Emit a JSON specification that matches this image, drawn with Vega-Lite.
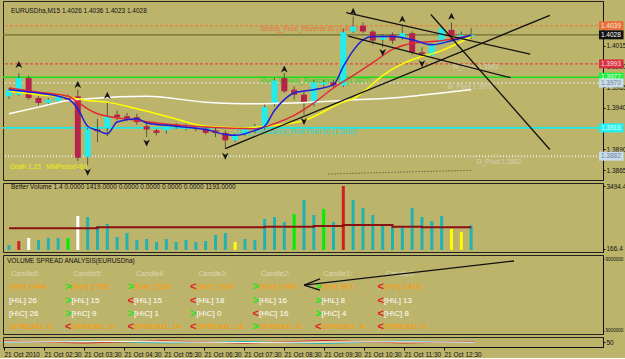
{
"$schema": "https://vega.github.io/schema/vega-lite/v6.json",
"background": "#BDB46C",
"padding": {"left": 1, "top": 0, "right": 0, "bottom": 0},
"spacing": 3,
"bounds": "flush",
"config": {
  "view": {"fill": "#BDB46C", "stroke": "#222222", "strokeWidth": 1},
  "font": "Liberation Sans",
  "axis": {"labelFont": "Liberation Sans", "labelFontSize": 6.5, "labelColor": "#111111", "tickColor": "#111111", "domainColor": "#111111", "tickSize": 2, "labelPadding": 1, "grid": false, "title": null}
},
"datasets": {
  "candles": [
    {"i":0,"o":1.3954,"h":1.3964,"l":1.3951,"c":1.3962},
    {"i":1,"o":1.3956,"h":1.3982,"l":1.3954,"c":1.3976},
    {"i":2,"o":1.3976,"h":1.3979,"l":1.3950,"c":1.3952},
    {"i":3,"o":1.3952,"h":1.3955,"l":1.3943,"c":1.3946},
    {"i":4,"o":1.3946,"h":1.3952,"l":1.3943,"c":1.3950},
    {"i":5,"o":1.3948,"h":1.3956,"l":1.3946,"c":1.3954},
    {"i":6,"o":1.3952,"h":1.3956,"l":1.3948,"c":1.3950},
    {"i":7,"o":1.3954,"h":1.3962,"l":1.3876,"c":1.3880},
    {"i":8,"o":1.3881,"h":1.3916,"l":1.3871,"c":1.3914},
    {"i":9,"o":1.3914,"h":1.3927,"l":1.3899,"c":1.3912},
    {"i":10,"o":1.3916,"h":1.3946,"l":1.3906,"c":1.3930},
    {"i":11,"o":1.3932,"h":1.3937,"l":1.3925,"c":1.3929},
    {"i":12,"o":1.3930,"h":1.3934,"l":1.3924,"c":1.3927},
    {"i":13,"o":1.3929,"h":1.3933,"l":1.3920,"c":1.3923},
    {"i":14,"o":1.3918,"h":1.3923,"l":1.3905,"c":1.3914},
    {"i":15,"o":1.3913,"h":1.3915,"l":1.3907,"c":1.3910},
    {"i":16,"o":1.3913,"h":1.3921,"l":1.3909,"c":1.3918},
    {"i":17,"o":1.3920,"h":1.3922,"l":1.3915,"c":1.3918},
    {"i":18,"o":1.3915,"h":1.3921,"l":1.3913,"c":1.3917},
    {"i":19,"o":1.3916,"h":1.3918,"l":1.3912,"c":1.3915},
    {"i":20,"o":1.3915,"h":1.3917,"l":1.3908,"c":1.3910},
    {"i":21,"o":1.3913,"h":1.3916,"l":1.3905,"c":1.3910},
    {"i":22,"o":1.3910,"h":1.3913,"l":1.3891,"c":1.3901},
    {"i":23,"o":1.3901,"h":1.3909,"l":1.3899,"c":1.3907},
    {"i":24,"o":1.3908,"h":1.3917,"l":1.3906,"c":1.3915},
    {"i":25,"o":1.3913,"h":1.3921,"l":1.3910,"c":1.3918},
    {"i":26,"o":1.3916,"h":1.3945,"l":1.3914,"c":1.3941},
    {"i":27,"o":1.3945,"h":1.3976,"l":1.3942,"c":1.3973},
    {"i":28,"o":1.3976,"h":1.3982,"l":1.3958,"c":1.3960},
    {"i":29,"o":1.3962,"h":1.3966,"l":1.3950,"c":1.3956},
    {"i":30,"o":1.3956,"h":1.3959,"l":1.3932,"c":1.3946},
    {"i":31,"o":1.3945,"h":1.3974,"l":1.3942,"c":1.3971},
    {"i":32,"o":1.3968,"h":1.3974,"l":1.3964,"c":1.3971},
    {"i":33,"o":1.3971,"h":1.3974,"l":1.3964,"c":1.3967},
    {"i":34,"o":1.3967,"h":1.4036,"l":1.3965,"c":1.4031},
    {"i":35,"o":1.4032,"h":1.4050,"l":1.4030,"c":1.4038},
    {"i":36,"o":1.4039,"h":1.4043,"l":1.4030,"c":1.4032},
    {"i":37,"o":1.4032,"h":1.4034,"l":1.4016,"c":1.4021},
    {"i":38,"o":1.4022,"h":1.4029,"l":1.4013,"c":1.4025},
    {"i":39,"o":1.4028,"h":1.4031,"l":1.4017,"c":1.4021},
    {"i":40,"o":1.4024,"h":1.4039,"l":1.4022,"c":1.4030},
    {"i":41,"o":1.4030,"h":1.4032,"l":1.4004,"c":1.4007},
    {"i":42,"o":1.4007,"h":1.4013,"l":1.4000,"c":1.4005},
    {"i":43,"o":1.4003,"h":1.4018,"l":1.4003,"c":1.4017},
    {"i":44,"o":1.4018,"h":1.4036,"l":1.4018,"c":1.4036},
    {"i":45,"o":1.4034,"h":1.4043,"l":1.4027,"c":1.4027},
    {"i":46,"o":1.4025,"h":1.4032,"l":1.4024,"c":1.4028},
    {"i":47,"o":1.4026,"h":1.4036,"l":1.4023,"c":1.4028}
  ],
  "ma": [
    {"s":"white","i":0,"v":1.3933},{"s":"white","i":3,"v":1.3941},{"s":"white","i":6,"v":1.3949},{"s":"white","i":8,"v":1.3951},{"s":"white","i":14,"v":1.3954},{"s":"white","i":20,"v":1.3947},{"s":"white","i":25,"v":1.3945},{"s":"white","i":29,"v":1.3946},{"s":"white","i":34,"v":1.3949},{"s":"white","i":40,"v":1.3953},{"s":"white","i":44,"v":1.3958},{"s":"white","i":47,"v":1.3962},
    {"s":"yellow","i":0,"v":1.3960},{"s":"yellow","i":3,"v":1.3956},{"s":"yellow","i":6,"v":1.3953},{"s":"yellow","i":8,"v":1.3949},{"s":"yellow","i":10,"v":1.3947},{"s":"yellow","i":13,"v":1.3939},{"s":"yellow","i":16,"v":1.3930},{"s":"yellow","i":20,"v":1.3918},{"s":"yellow","i":24,"v":1.3916},{"s":"yellow","i":26,"v":1.3918},{"s":"yellow","i":30,"v":1.3925},{"s":"yellow","i":34,"v":1.3947},{"s":"yellow","i":35,"v":1.3951},{"s":"yellow","i":36,"v":1.3959},{"s":"yellow","i":38,"v":1.3979},{"s":"yellow","i":40,"v":1.3993},{"s":"yellow","i":41,"v":1.3998},{"s":"yellow","i":44,"v":1.4009},{"s":"yellow","i":47,"v":1.4026},
    {"s":"red","i":0,"v":1.3964},{"s":"red","i":3,"v":1.3959},{"s":"red","i":6,"v":1.3954},{"s":"red","i":7,"v":1.3947},{"s":"red","i":8,"v":1.3939},{"s":"red","i":9,"v":1.3933},{"s":"red","i":10,"v":1.3930},{"s":"red","i":13,"v":1.3925},{"s":"red","i":15,"v":1.3922},{"s":"red","i":20,"v":1.3917},{"s":"red","i":25,"v":1.3915},{"s":"red","i":27,"v":1.3921},{"s":"red","i":29,"v":1.3931},{"s":"red","i":31,"v":1.3946},{"s":"red","i":33,"v":1.3964},{"s":"red","i":35,"v":1.3979},{"s":"red","i":37,"v":1.39945},{"s":"red","i":39,"v":1.40105},{"s":"red","i":41,"v":1.4018},{"s":"red","i":44,"v":1.4021},{"s":"red","i":47,"v":1.40275},
    {"s":"blue","i":0,"v":1.3962},{"s":"blue","i":3,"v":1.3958},{"s":"blue","i":6,"v":1.3951},{"s":"blue","i":7,"v":1.3939},{"s":"blue","i":8,"v":1.3918},{"s":"blue","i":9,"v":1.3913},{"s":"blue","i":10,"v":1.3909},{"s":"blue","i":11,"v":1.3923},{"s":"blue","i":13,"v":1.3927},{"s":"blue","i":14,"v":1.3922},{"s":"blue","i":17,"v":1.3918},{"s":"blue","i":20,"v":1.3914},{"s":"blue","i":22,"v":1.3908},{"s":"blue","i":23,"v":1.3907},{"s":"blue","i":25,"v":1.3913},{"s":"blue","i":26,"v":1.3918},{"s":"blue","i":27,"v":1.3937},{"s":"blue","i":28,"v":1.3950},{"s":"blue","i":29,"v":1.3958},{"s":"blue","i":31,"v":1.3962},{"s":"blue","i":33,"v":1.3968},{"s":"blue","i":34,"v":1.3990},{"s":"blue","i":35,"v":1.4009},{"s":"blue","i":36,"v":1.4022},{"s":"blue","i":37,"v":1.4026},{"s":"blue","i":39,"v":1.4026},{"s":"blue","i":41,"v":1.4022},{"s":"blue","i":43,"v":1.4016},{"s":"blue","i":45,"v":1.4021},{"s":"blue","i":47,"v":1.40275}
  ],
  "levels": [
    {"lv":"strong","p":1.4039},{"lv":"bid","p":1.4028},{"lv":"wpivot","p":1.3993},{"lv":"weekly","p":1.3977},{"lv":"mpivot","p":1.3970},{"lv":"daily","p":1.3916},{"lv":"dpivot","p":1.3882}
  ],
  "trend": [
    {"xa":22,"pa":1.3891,"xb":55,"pb":1.40514},
    {"xa":34.3,"pa":1.40548,"xb":53,"pb":1.40048},
    {"xa":34.5,"pa":1.40264,"xb":51,"pb":1.39764},
    {"xa":42.9,"pa":1.40525,"xb":55,"pb":1.3890}
  ],
  "dotted": [
    {"xa":32.5,"pa":1.38605,"xb":47,"pb":1.3865}
  ],
  "fractals": [
    {"i":1,"p":1.3992,"d":"up"},{"i":7,"p":1.3968,"d":"up"},{"i":10,"p":1.3955,"d":"up"},{"i":28,"p":1.39866,"d":"up"},{"i":35,"p":1.4056,"d":"up"},{"i":40,"p":1.40468,"d":"up"},{"i":45,"p":1.40502,"d":"up"},
    {"i":8,"p":1.3863,"d":"down"},{"i":14,"p":1.3898,"d":"down"},{"i":22,"p":1.3882,"d":"down"},{"i":30,"p":1.3924,"d":"down"},{"i":38,"p":1.4007,"d":"down"},{"i":42,"p":1.39934,"d":"down"}
  ],
  "ptext": [
    {"i":0.2,"p":1.4057,"t":"EURUSDha,M15  1.4026 1.4036 1.4023 1.4028","k":"hdr"},
    {"i":0.1,"p":1.38684,"t":"Grath 1.23","k":"grath"},
    {"i":3.8,"p":1.38684,"t":"MMPeriod=60","k":"mm"},
    {"i":25.6,"p":1.40355,"t":"Strong_Pivot_Reverse 60 (1.4039)","k":"strong"},
    {"i":25.6,"p":1.3973,"t":"Pivot_Weekly_Resistance 60 (1.3977)","k":"weekly"},
    {"i":23.1,"p":1.39116,"t":"Daily_Resistance_Pivot Point 60 (1.3916)","k":"daily"},
    {"i":45.1,"p":1.39889,"t":"W_Pivot 1.3993","k":"pv"},
    {"i":44.6,"p":1.3965,"t":"M_Pivot 1.3970","k":"pv"},
    {"i":47.6,"p":1.38752,"t":"D_Pivot 1.3882","k":"pv"}
  ],
  "boxes": [
    {"b":"strong","p":1.4039,"t":"1.4039"},{"b":"bid","p":1.4028,"t":"1.4028"},{"b":"wpivot","p":1.3993,"t":"1.3993"},{"b":"weekly","p":1.3977,"t":"1.3977"},{"b":"mpivot","p":1.3970,"t":"1.3970"},{"b":"daily","p":1.3916,"t":"1.3916"},{"b":"dpivot","p":1.3882,"t":"1.3882"}
  ],
  "vol": [
    {"i":0,"v":378,"k":"n"},{"i":1,"v":589,"k":"r"},{"i":2,"v":748,"k":"w"},{"i":3,"v":642,"k":"n"},{"i":4,"v":748,"k":"n"},{"i":5,"v":748,"k":"n"},{"i":6,"v":748,"k":"g"},{"i":7,"v":1910,"k":"w"},{"i":8,"v":1857,"k":"n"},{"i":9,"v":1382,"k":"n"},{"i":10,"v":1487,"k":"n"},{"i":11,"v":800,"k":"n"},{"i":12,"v":1012,"k":"n"},{"i":13,"v":642,"k":"n"},{"i":14,"v":695,"k":"n"},{"i":15,"v":536,"k":"n"},{"i":16,"v":695,"k":"n"},{"i":17,"v":536,"k":"n"},{"i":18,"v":642,"k":"n"},{"i":19,"v":536,"k":"n"},{"i":20,"v":589,"k":"n"},{"i":21,"v":906,"k":"n"},{"i":22,"v":1012,"k":"n"},{"i":23,"v":536,"k":"y"},{"i":24,"v":695,"k":"n"},{"i":25,"v":642,"k":"n"},{"i":26,"v":1751,"k":"n"},{"i":27,"v":1857,"k":"n"},{"i":28,"v":1593,"k":"n"},{"i":29,"v":2015,"k":"g"},{"i":30,"v":2755,"k":"n"},{"i":31,"v":1963,"k":"n"},{"i":32,"v":2280,"k":"g"},{"i":33,"v":1593,"k":"n"},{"i":34,"v":3494,"k":"r"},{"i":35,"v":2755,"k":"n"},{"i":36,"v":2333,"k":"n"},{"i":37,"v":1963,"k":"n"},{"i":38,"v":1434,"k":"n"},{"i":39,"v":1329,"k":"n"},{"i":40,"v":1329,"k":"n"},{"i":41,"v":2333,"k":"n"},{"i":42,"v":1857,"k":"n"},{"i":43,"v":1646,"k":"n"},{"i":44,"v":1910,"k":"n"},{"i":45,"v":1223,"k":"y"},{"i":46,"v":1065,"k":"y"},{"i":47,"v":1419,"k":"n"}
  ],
  "volavg": [
    {"i":0,"v":1260},{"i":9,"v":1313},{"i":26,"v":1345},{"i":31,"v":1382},{"i":34,"v":1434},{"i":39,"v":1345},{"i":42,"v":1313},{"i":47,"v":1313}
  ],
  "vsa": [
    {"col":-0.032,"row":0,"t":"VOLUME SPREAD ANALYSIS(EURUSDha)","k":"title"},
    {"col":0.03,"row":1,"t":"Candle6:","k":"hdr"},{"col":1.03,"row":1,"t":"Candle5:","k":"hdr"},{"col":2.03,"row":1,"t":"Candle4:","k":"hdr"},{"col":3.03,"row":1,"t":"Candle3:","k":"hdr"},{"col":4.03,"row":1,"t":"Candle2:","k":"hdr"},{"col":5.03,"row":1,"t":"Candle1:","k":"hdr"},{"col":6.03,"row":1,"t":"Candle0:","k":"hdr"},
    {"col":0,"row":2,"t":"[Vol] 2464","k":"orange"},{"col":1,"row":2,"t":"[Vol] 1758","k":"orange"},{"col":2,"row":2,"t":"[Vol] 1526","k":"orange"},{"col":3,"row":2,"t":"[Vol] 1768","k":"orange"},{"col":4,"row":2,"t":"[Vol] 2046","k":"orange"},{"col":5,"row":2,"t":"[Vol] 961","k":"orange"},{"col":6,"row":2,"t":"[Vol] 1419","k":"orange"},
    {"col":0,"row":3,"t":"[H\\L] 26","k":"white"},{"col":1,"row":3,"t":"[H\\L] 15","k":"white"},{"col":2,"row":3,"t":"[H\\L] 15","k":"white"},{"col":3,"row":3,"t":"[H\\L] 18","k":"white"},{"col":4,"row":3,"t":"[H\\L] 16","k":"white"},{"col":5,"row":3,"t":"[H\\L] 8","k":"white"},{"col":6,"row":3,"t":"[H\\L] 13","k":"white"},
    {"col":0,"row":4,"t":"[H\\C] 26","k":"white"},{"col":1,"row":4,"t":"[H\\C] 9","k":"white"},{"col":2,"row":4,"t":"[H\\C] 1","k":"white"},{"col":3,"row":4,"t":"[H\\C] 0","k":"white"},{"col":4,"row":4,"t":"[H\\C] 16","k":"white"},{"col":5,"row":4,"t":"[H\\C] 4","k":"white"},{"col":6,"row":4,"t":"[H\\C] 8","k":"white"},
    {"col":0,"row":5,"t":"SPREAD: 6","k":"orange"},{"col":1,"row":5,"t":"SPREAD: 6","k":"orange"},{"col":2,"row":5,"t":"SPREAD: 14","k":"orange"},{"col":3,"row":5,"t":"SPREAD: 18","k":"orange"},{"col":4,"row":5,"t":"SPREAD: 6","k":"orange"},{"col":5,"row":5,"t":"SPREAD: 4","k":"orange"},{"col":6,"row":5,"t":"SPREAD: 5","k":"orange"},
    {"col":1,"row":2,"t":">","k":"up"},{"col":2,"row":2,"t":">","k":"up"},{"col":3,"row":2,"t":"<","k":"down"},{"col":4,"row":2,"t":">","k":"up"},{"col":5,"row":2,"t":">","k":"up"},{"col":6,"row":2,"t":"<","k":"down"},
    {"col":1,"row":3,"t":">","k":"up"},{"col":2,"row":3,"t":"<","k":"down"},{"col":3,"row":3,"t":"<","k":"down"},{"col":4,"row":3,"t":">","k":"up"},{"col":5,"row":3,"t":">","k":"up"},{"col":6,"row":3,"t":"<","k":"down"},
    {"col":1,"row":4,"t":">","k":"up"},{"col":2,"row":4,"t":">","k":"up"},{"col":3,"row":4,"t":">","k":"up"},{"col":4,"row":4,"t":"<","k":"down"},{"col":5,"row":4,"t":">","k":"up"},{"col":6,"row":4,"t":"<","k":"down"},
    {"col":1,"row":5,"t":"<","k":"down"},{"col":2,"row":5,"t":"<","k":"down"},{"col":3,"row":5,"t":"<","k":"down"},{"col":4,"row":5,"t":">","k":"up"},{"col":5,"row":5,"t":"<","k":"down"},{"col":6,"row":5,"t":"<","k":"down"}
  ],
  "arrow": [
    {"ca":4.72,"ra":1.82,"cb":8.08,"rb":0.0},{"ca":4.72,"ra":1.82,"cb":4.976,"rb":1.36},{"ca":4.72,"ra":1.82,"cb":4.976,"rb":2.2}
  ],
  "strip": [
    {"s":"a","i":0,"v":45},{"s":"a","i":8,"v":60},{"s":"a","i":16,"v":40},{"s":"a","i":24,"v":55},{"s":"a","i":32,"v":35},{"s":"a","i":40,"v":60},{"s":"a","i":47,"v":45},
    {"s":"b","i":0,"v":60},{"s":"b","i":8,"v":40},{"s":"b","i":16,"v":62},{"s":"b","i":24,"v":38},{"s":"b","i":32,"v":65},{"s":"b","i":40,"v":40},{"s":"b","i":47,"v":55},
    {"s":"c","i":0,"v":50},{"s":"c","i":12,"v":55},{"s":"c","i":24,"v":45},{"s":"c","i":36,"v":52},{"s":"c","i":47,"v":48}
  ]
},
"vconcat": [
  {
    "width": 600, "height": 179,
    "resolve": {"scale": {"color": "independent", "size": "independent", "strokeDash": "independent", "strokeWidth": "independent", "shape": "independent"}},
    "layer": [
      {"data": {"name": "levels"}, "mark": {"type": "rule"},
       "encoding": {
         "y": {"field": "p", "type": "quantitative", "scale": {"domain": [1.38593, 1.40627], "nice": false, "zero": false}, "axis": {"orient": "right", "values": [1.3865,1.389,1.394,1.3965,1.399,1.4015], "format": ".4f"}},
         "color": {"field": "lv", "type": "nominal", "legend": null, "scale": {"domain": ["strong","bid","wpivot","weekly","mpivot","daily","dpivot"], "range": ["#F07838","#6E6C34","#E04848","#18E018","#D8D8C8","#18E8E8","#E8E8E0"]}},
         "strokeDash": {"field": "lv", "type": "nominal", "legend": null, "scale": {"domain": ["strong","bid","wpivot","weekly","mpivot","daily","dpivot"], "range": [[3,2],[1,0],[3,2],[1,0],[2,2],[1,0],[1,2]]}},
         "strokeWidth": {"field": "lv", "type": "nominal", "legend": null, "scale": {"domain": ["strong","bid","wpivot","weekly","mpivot","daily","dpivot"], "range": [1,2,1,1.5,1,1.5,1]}}
       }},
      {"data": {"name": "ptext"}, "mark": {"type": "text", "align": "left", "baseline": "middle"},
       "encoding": {
         "x": {"field": "i", "type": "quantitative", "scale": {"domain": [-0.1, 59.9], "nice": false, "zero": false}, "axis": null},
         "y": {"field": "p", "type": "quantitative", "scale": {"domain": [1.38593, 1.40627], "nice": false, "zero": false}, "axis": {"orient": "right", "values": [1.3865,1.389,1.394,1.3965,1.399,1.4015], "format": ".4f"}},
         "text": {"field": "t"},
         "color": {"field": "k", "type": "nominal", "legend": null, "scale": {"domain": ["hdr","grath","mm","strong","weekly","daily","pv"], "range": ["#101010","#F0F000","#F0F000","#E8703C","#18D818","#18D8D8","#D0D0B8"]}},
         "size": {"field": "k", "type": "nominal", "legend": null, "scale": {"domain": ["hdr","grath","mm","strong","weekly","daily","pv"], "range": [6.5,6.5,11,7,7,7,7]}}
       }},
      {"data": {"name": "candles"}, "mark": {"type": "rule", "color": "#5C5A3C", "clip": true},
       "encoding": {
         "x": {"field": "i", "type": "quantitative", "scale": {"domain": [-0.1, 59.9], "nice": false, "zero": false}, "axis": null},
         "y": {"field": "l", "type": "quantitative", "scale": {"domain": [1.38593, 1.40627], "nice": false, "zero": false}, "axis": {"orient": "right", "values": [1.3865,1.389,1.394,1.3965,1.399,1.4015], "format": ".4f"}},
         "y2": {"field": "h"}
       }},
      {"data": {"name": "candles"}, "mark": {"type": "bar", "size": 6, "orient": "vertical", "clip": true},
       "encoding": {
         "x": {"field": "i", "type": "quantitative", "scale": {"domain": [-0.1, 59.9], "nice": false, "zero": false}, "axis": null},
         "y": {"field": "o", "type": "quantitative", "scale": {"domain": [1.38593, 1.40627], "nice": false, "zero": false}, "axis": {"orient": "right", "values": [1.3865,1.389,1.394,1.3965,1.399,1.4015], "format": ".4f"}},
         "y2": {"field": "c"},
         "color": {"condition": {"test": "datum.c >= datum.o", "value": "#22ECEC"}, "value": "#B5234A"}
       }},
      {"data": {"name": "ma"}, "mark": {"type": "line", "strokeWidth": 1.5, "interpolate": "monotone", "clip": true},
       "encoding": {
         "x": {"field": "i", "type": "quantitative", "scale": {"domain": [-0.1, 59.9], "nice": false, "zero": false}, "axis": null},
         "y": {"field": "v", "type": "quantitative", "scale": {"domain": [1.38593, 1.40627], "nice": false, "zero": false}, "axis": {"orient": "right", "values": [1.3865,1.389,1.394,1.3965,1.399,1.4015], "format": ".4f"}},
         "color": {"field": "s", "type": "nominal", "legend": null, "sort": ["white","yellow","red","blue"], "scale": {"domain": ["white","yellow","red","blue"], "range": ["#FFFFFF","#FFFF00","#E02838","#1A20D8"]}},
         "order": {"field": "i", "type": "quantitative"}
       }},
      {"data": {"name": "trend"}, "mark": {"type": "rule", "color": "#111111", "strokeWidth": 1.3},
       "encoding": {
         "x": {"field": "xa", "type": "quantitative", "scale": {"domain": [-0.1, 59.9], "nice": false, "zero": false}, "axis": null},
         "x2": {"field": "xb"},
         "y": {"field": "pa", "type": "quantitative", "scale": {"domain": [1.38593, 1.40627], "nice": false, "zero": false}, "axis": {"orient": "right", "values": [1.3865,1.389,1.394,1.3965,1.399,1.4015], "format": ".4f"}},
         "y2": {"field": "pb"}
       }},
      {"data": {"name": "dotted"}, "mark": {"type": "rule", "color": "#3A3A20", "strokeWidth": 1, "strokeDash": [1,2]},
       "encoding": {
         "x": {"field": "xa", "type": "quantitative", "scale": {"domain": [-0.1, 59.9], "nice": false, "zero": false}, "axis": null},
         "x2": {"field": "xb"},
         "y": {"field": "pa", "type": "quantitative", "scale": {"domain": [1.38593, 1.40627], "nice": false, "zero": false}, "axis": {"orient": "right", "values": [1.3865,1.389,1.394,1.3965,1.399,1.4015], "format": ".4f"}},
         "y2": {"field": "pb"}
       }},
      {"data": {"name": "fractals"}, "mark": {"type": "point", "filled": true, "size": 55, "color": "#151515", "opacity": 1, "clip": true},
       "encoding": {
         "x": {"field": "i", "type": "quantitative", "scale": {"domain": [-0.1, 59.9], "nice": false, "zero": false}, "axis": null},
         "y": {"field": "p", "type": "quantitative", "scale": {"domain": [1.38593, 1.40627], "nice": false, "zero": false}, "axis": {"orient": "right", "values": [1.3865,1.389,1.394,1.3965,1.399,1.4015], "format": ".4f"}},
         "shape": {"field": "d", "type": "nominal", "legend": null, "scale": {"domain": ["up","down"], "range": ["M0,-1L0.9,0.9L0,0.35L-0.9,0.9Z", "M0,1L0.9,-0.9L0,-0.35L-0.9,-0.9Z"]}}
       }},
      {"data": {"name": "boxes"}, "mark": {"type": "bar", "orient": "horizontal", "size": 9, "clip": false},
       "encoding": {
         "x": {"datum": 60.0, "type": "quantitative", "scale": {"domain": [-0.1, 59.9], "nice": false, "zero": false}, "axis": null},
         "x2": {"datum": 62.5},
         "y": {"field": "p", "type": "quantitative", "scale": {"domain": [1.38593, 1.40627], "nice": false, "zero": false}, "axis": {"orient": "right", "values": [1.3865,1.389,1.394,1.3965,1.399,1.4015], "format": ".4f"}},
         "color": {"field": "b", "type": "nominal", "legend": null, "scale": {"domain": ["strong","bid","wpivot","weekly","mpivot","daily","dpivot"], "range": ["#E8703C","#101010","#D83040","#20F040","#C8DCEC","#20F0F0","#C8DCF0"]}}
       }},
      {"data": {"name": "boxes"}, "mark": {"type": "text", "align": "left", "baseline": "middle", "fontSize": 6.5, "clip": false},
       "encoding": {
         "x": {"datum": 60.2, "type": "quantitative", "scale": {"domain": [-0.1, 59.9], "nice": false, "zero": false}, "axis": null},
         "y": {"field": "p", "type": "quantitative", "scale": {"domain": [1.38593, 1.40627], "nice": false, "zero": false}, "axis": {"orient": "right", "values": [1.3865,1.389,1.394,1.3965,1.399,1.4015], "format": ".4f"}},
         "text": {"field": "t"},
         "color": {"field": "b", "type": "nominal", "legend": null, "scale": {"domain": ["strong","bid","wpivot","weekly","mpivot","daily","dpivot"], "range": ["#FFE8D8","#FFFFFF","#FFE0E0","#E8FFE8","#708090","#E8FFFF","#708090"]}}
       }}
    ]
  },
  {
    "width": 600, "height": 69,
    "layer": [
      {"data": {"name": "vol"}, "mark": {"type": "bar", "size": 3, "orient": "vertical"},
       "encoding": {
         "x": {"field": "i", "type": "quantitative", "scale": {"domain": [-0.1, 59.9], "nice": false, "zero": false}, "axis": null},
         "y": {"field": "v", "type": "quantitative", "scale": {"domain": [7.9, 3653], "nice": false, "zero": false}, "axis": {"orient": "right", "values": [166.4, 3494.4], "format": ".1f"}},
         "y2": {"datum": 113},
         "color": {"field": "k", "type": "nominal", "legend": null, "scale": {"domain": ["n","r","w","g","y"], "range": ["#22B2B2","#D02020","#FFFFFF","#00F000","#FFFF00"]}}
       }},
      {"data": {"name": "volavg"}, "mark": {"type": "line", "interpolate": "step-after", "color": "#8B1010", "strokeWidth": 2},
       "encoding": {
         "x": {"field": "i", "type": "quantitative", "scale": {"domain": [-0.1, 59.9], "nice": false, "zero": false}, "axis": null},
         "y": {"field": "v", "type": "quantitative", "scale": {"domain": [7.9, 3653], "nice": false, "zero": false}, "axis": {"orient": "right", "values": [166.4, 3494.4], "format": ".1f"}}
       }},
      {"data": {"values": [{}]}, "mark": {"type": "text", "align": "left", "baseline": "middle", "fontSize": 6.5, "color": "#101010"},
       "encoding": {
         "x": {"datum": 0.2, "type": "quantitative", "scale": {"domain": [-0.1, 59.9], "nice": false, "zero": false}, "axis": null},
         "y": {"datum": 3420, "type": "quantitative", "scale": {"domain": [7.9, 3653], "nice": false, "zero": false}, "axis": {"orient": "right", "values": [166.4, 3494.4], "format": ".1f"}},
         "text": {"value": "Better Volume 1.4 0.0000 1419.0000 0.0000 0.0000 0.0000 0.0000 1193.0000"}
       }}
    ]
  },
  {
    "width": 600, "height": 79,
    "resolve": {"scale": {"color": "independent", "size": "independent"}},
    "layer": [
      {"data": {"name": "vsa"}, "transform": [{"filter": "datum.k == 'title' || datum.k == 'hdr' || datum.k == 'white'"}],
       "mark": {"type": "text", "align": "left", "baseline": "middle"},
       "encoding": {
         "x": {"field": "col", "type": "quantitative", "scale": {"domain": [-0.096, 9.504], "nice": false, "zero": false}, "axis": null},
         "y": {"field": "row", "type": "quantitative", "scale": {"domain": [-0.4545, 5.53], "reverse": true, "nice": false, "zero": false}, "axis": {"orient": "right", "values": [-0.15, 5.3], "labelExpr": "'9000000'", "labelFontSize": 4.6, "tickSize": 1, "labelPadding": 1}},
         "text": {"field": "t"},
         "color": {"field": "k", "type": "nominal", "legend": null, "scale": {"domain": ["title","hdr","white"], "range": ["#101010","#DCD6B0","#FFFFFF"]}},
         "size": {"field": "k", "type": "nominal", "legend": null, "scale": {"domain": ["title","hdr","white"], "range": [6.5,8,11.5]}}
       }},
      {"data": {"name": "vsa"}, "transform": [{"filter": "datum.k == 'orange'"}],
       "mark": {"type": "text", "align": "left", "baseline": "middle", "fontSize": 8, "fontWeight": "bold", "color": "#F0A020"},
       "encoding": {
         "x": {"field": "col", "type": "quantitative", "scale": {"domain": [-0.096, 9.504], "nice": false, "zero": false}, "axis": null},
         "y": {"field": "row", "type": "quantitative", "scale": {"domain": [-0.4545, 5.53], "reverse": true, "nice": false, "zero": false}, "axis": {"orient": "right", "values": [-0.15, 5.3], "labelExpr": "'9000000'", "labelFontSize": 4.6, "tickSize": 1, "labelPadding": 1}},
         "text": {"field": "t"}
       }},
      {"data": {"name": "vsa"}, "transform": [{"filter": "datum.k == 'up' || datum.k == 'down'"}],
       "mark": {"type": "text", "align": "right", "baseline": "middle", "fontSize": 11, "fontWeight": "bold"},
       "encoding": {
         "x": {"field": "col", "type": "quantitative", "scale": {"domain": [-0.096, 9.504], "nice": false, "zero": false}, "axis": null},
         "y": {"field": "row", "type": "quantitative", "scale": {"domain": [-0.4545, 5.53], "reverse": true, "nice": false, "zero": false}, "axis": {"orient": "right", "values": [-0.15, 5.3], "labelExpr": "'9000000'", "labelFontSize": 4.6, "tickSize": 1, "labelPadding": 1}},
         "text": {"field": "t"},
         "color": {"field": "k", "type": "nominal", "legend": null, "scale": {"domain": ["up","down"], "range": ["#18E818","#E02020"]}}
       }},
      {"data": {"name": "arrow"}, "mark": {"type": "rule", "color": "#111111", "strokeWidth": 1.3},
       "encoding": {
         "x": {"field": "ca", "type": "quantitative", "scale": {"domain": [-0.096, 9.504], "nice": false, "zero": false}, "axis": null},
         "x2": {"field": "cb"},
         "y": {"field": "ra", "type": "quantitative", "scale": {"domain": [-0.4545, 5.53], "reverse": true, "nice": false, "zero": false}, "axis": {"orient": "right", "values": [-0.15, 5.3], "labelExpr": "'9000000'", "labelFontSize": 4.6, "tickSize": 1, "labelPadding": 1}},
         "y2": {"field": "rb"}
       }}
    ]
  },
  {
    "width": 600, "height": 10,
    "layer": [
      {"data": {"name": "strip"}, "mark": {"type": "line", "strokeWidth": 1},
       "encoding": {
         "x": {"field": "i", "type": "quantitative", "scale": {"domain": [-0.1, 59.9], "nice": false, "zero": false},
               "axis": {"orient": "bottom", "values": [0,4,8,12,16,20,24,28,32,36,40,44], "labelExpr": "['21 Oct 2010','21 Oct 02:30','21 Oct 03:30','21 Oct 04:30','21 Oct 05:30','21 Oct 06:30','21 Oct 07:30','21 Oct 08:30','21 Oct 09:30','21 Oct 10:30','21 Oct 11:30','21 Oct 12:30'][datum.value/4]", "labelAlign": "left", "labelOverlap": false, "labelFlush": false, "tickSize": 3, "labelPadding": 1}},
         "y": {"field": "v", "type": "quantitative", "scale": {"domain": [0, 100], "nice": false, "zero": false}, "axis": {"orient": "right", "values": [50], "format": "d"}},
         "color": {"field": "s", "type": "nominal", "legend": null, "scale": {"domain": ["a","b","c"], "range": ["#D02030","#2030C0","#20C040"]}}
       }}
    ]
  }
]
}
